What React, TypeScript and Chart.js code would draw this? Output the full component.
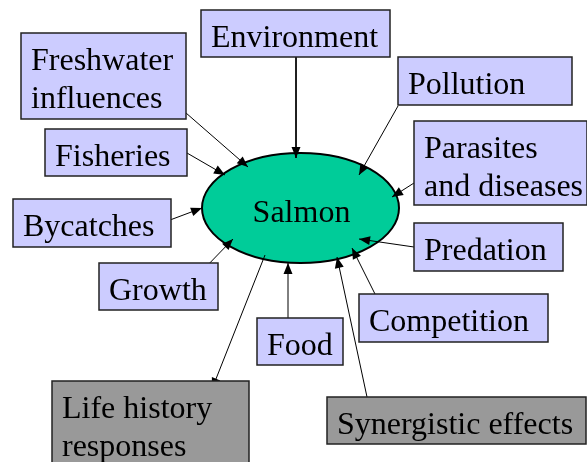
import React, { useEffect, useRef } from "react";
import { Chart, registerables } from "chart.js";

Chart.register(...registerables);

// ---- Diagram data ----
const centerLabel = "Salmon";
const centerX = 300.5;
const centerY = 208;
const centerRadiusX = 98.5;
const centerRadiusY = 55;

const factors = [
  "Environment",
  "Freshwater influences",
  "Fisheries",
  "Pollution",
  "Parasites and diseases",
  "Bycatches",
  "Growth",
  "Food",
  "Life history responses",
  "Predation",
  "Competition",
  "Synergistic effects",
];
const factorLines = [
  ["Environment"],
  ["Freshwater", "influences"],
  ["Fisheries"],
  ["Pollution"],
  ["Parasites", "and diseases"],
  ["Bycatches"],
  ["Growth"],
  ["Food"],
  ["Life history", "responses"],
  ["Predation"],
  ["Competition"],
  ["Synergistic effects"],
];
// box group: "factor" (lavender) or "emergent" (grey)
const factorGroup = ["factor", "factor", "factor", "factor", "factor", "factor", "factor", "factor", "emergent", "factor", "factor", "emergent"];
// arrow direction: "in" = towards salmon, "out" = from salmon
const linkDirection = ["in", "in", "in", "in", "in", "in", "in", "in", "out", "in", "in", "in"];

const boxLeft = [201, 21, 45, 398, 414, 13, 99, 257, 52, 414, 359, 327];
const boxTop = [10, 33, 129, 57, 121, 199, 263, 318, 381, 223, 294, 397];
const boxRight = [390, 186, 187, 572, 587, 171, 218, 343, 249, 563, 548, 586];
const boxBottom = [57, 119, 176, 105, 205, 247, 310, 365, 475, 271, 342, 444];

// link endpoints: at factor box and at salmon ellipse
const linkBoxX = [296, 178, 187, 398, 414, 162, 202, 288, 212, 414, 375, 367];
const linkBoxY = [57, 106, 153, 106, 183, 223, 271, 318, 389, 247, 294, 397];
const linkEllX = [296, 248, 225, 359, 392, 202, 233, 288, 265, 359, 352, 337];
const linkEllY = [158, 167, 175, 175, 197, 208, 239, 263, 255, 239, 248, 257];

const FONT = '32px "Liberation Serif"';

export default function App() {
  const canvasRef = useRef<HTMLCanvasElement | null>(null);

  useEffect(() => {
    const canvas = canvasRef.current;
    if (!canvas) return;

    const datasets = factors.map((name, i) => {
      const boxPt = { x: linkBoxX[i], y: linkBoxY[i] };
      const ellPt = { x: linkEllX[i], y: linkEllY[i] };
      return {
        label: name,
        data: linkDirection[i] === "in" ? [boxPt, ellPt] : [ellPt, boxPt],
        showLine: true,
        borderColor: "#000000",
        borderWidth: 1,
        pointRadius: 0,
        pointHoverRadius: 0,
        fill: false,
      };
    });

    const diagramPlugin = {
      id: "diagram",
      beforeDatasetsDraw(chart: any) {
        const ctx = chart.ctx;
        const xs = chart.scales.x;
        const ys = chart.scales.y;
        const cx = xs.getPixelForValue(centerX);
        const cy = ys.getPixelForValue(centerY);
        const rx = Math.abs(xs.getPixelForValue(centerX + centerRadiusX) - cx);
        const ry = Math.abs(ys.getPixelForValue(centerY + centerRadiusY) - cy);
        ctx.save();
        ctx.beginPath();
        ctx.ellipse(cx, cy, rx, ry, 0, 0, Math.PI * 2);
        ctx.fillStyle = "#00cc99";
        ctx.fill();
        ctx.lineWidth = 2;
        ctx.strokeStyle = "#000000";
        ctx.stroke();
        ctx.restore();
      },
      afterDatasetsDraw(chart: any) {
        const ctx = chart.ctx;
        const xs = chart.scales.x;
        const ys = chart.scales.y;
        ctx.save();
        // arrowheads
        chart.data.datasets.forEach((ds: any) => {
          const [a, b] = ds.data;
          const x1 = xs.getPixelForValue(a.x);
          const y1 = ys.getPixelForValue(a.y);
          const x2 = xs.getPixelForValue(b.x);
          const y2 = ys.getPixelForValue(b.y);
          const ang = Math.atan2(y2 - y1, x2 - x1);
          const len = 11;
          const hw = 4.5;
          const bx = x2 - len * Math.cos(ang);
          const by = y2 - len * Math.sin(ang);
          ctx.beginPath();
          ctx.moveTo(x2, y2);
          ctx.lineTo(bx + hw * Math.sin(ang), by - hw * Math.cos(ang));
          ctx.lineTo(bx - hw * Math.sin(ang), by + hw * Math.cos(ang));
          ctx.closePath();
          ctx.fillStyle = "#000000";
          ctx.fill();
        });
        // boxes
        factors.forEach((_, i) => {
          const l = xs.getPixelForValue(boxLeft[i]);
          const r = xs.getPixelForValue(boxRight[i]);
          const t = ys.getPixelForValue(boxTop[i]);
          const b = ys.getPixelForValue(boxBottom[i]);
          ctx.fillStyle = factorGroup[i] === "factor" ? "#ccccff" : "#999999";
          ctx.fillRect(l, t, r - l, b - t);
          ctx.lineWidth = 1.5;
          ctx.strokeStyle = "#222222";
          ctx.strokeRect(l, t, r - l, b - t);
          ctx.fillStyle = "#000000";
          ctx.font = FONT;
          ctx.textAlign = "left";
          ctx.textBaseline = "alphabetic";
          factorLines[i].forEach((line, k) => {
            ctx.fillText(line, l + 10, t + 37 + k * 38);
          });
        });
        // center label
        ctx.font = FONT;
        ctx.fillStyle = "#000000";
        ctx.textAlign = "center";
        ctx.textBaseline = "alphabetic";
        ctx.fillText(
          centerLabel,
          xs.getPixelForValue(centerX + 1),
          ys.getPixelForValue(centerY + 14)
        );
        ctx.restore();
      },
    };

    const chart = new Chart(canvas, {
      type: "scatter",
      data: { datasets },
      options: {
        animation: false,
        responsive: false,
        maintainAspectRatio: false,
        devicePixelRatio: 1,
        layout: { padding: 0 },
        events: [],
        plugins: {
          legend: { display: false },
          tooltip: { enabled: false },
          title: { display: false },
        },
        scales: {
          x: { type: "linear", min: 0, max: 587, display: false },
          y: { type: "linear", min: 0, max: 462, reverse: true, display: false },
        },
      },
      plugins: [diagramPlugin],
    } as any);

    let alive = true;
    const fonts: any = (document as any).fonts;
    if (fonts && fonts.load) {
      fonts
        .load(FONT, "Salmon")
        .then(() => {
          if (alive) chart.draw();
        })
        .catch(() => {});
    }

    return () => {
      alive = false;
      chart.destroy();
    };
  }, []);

  return (
    <div
      style={{
        position: "absolute",
        left: 0,
        top: 0,
        width: 587,
        height: 462,
        background: "#ffffff",
      }}
    >
      <canvas ref={canvasRef} width={587} height={462} style={{ display: "block" }} />
    </div>
  );
}
